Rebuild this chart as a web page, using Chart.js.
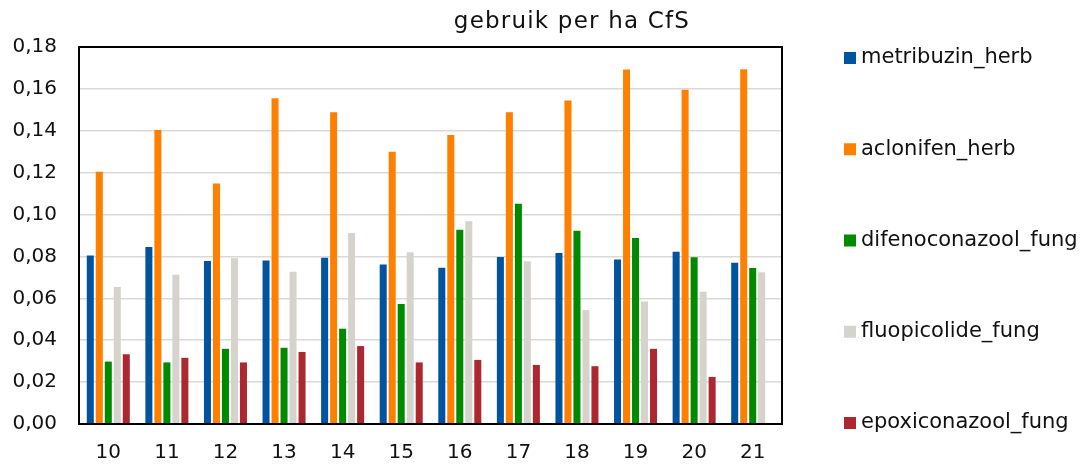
<!DOCTYPE html>
<html lang="nl">

<head>
    <meta charset="UTF-8">
    <title>gebruik per ha CfS</title>
    <script src="https://cdn.jsdelivr.net/npm/chart.js"></script>
    <style>
        html, body { margin: 0; padding: 0; background: #fff; }
        #wrap { width: 1084px; height: 468px; position: relative; }
    </style>
</head>

<body>
    <div id="wrap">
        <canvas id="chart" width="1084" height="468"></canvas>
    </div>

    <script type="text/javascript">
        // x-as categorieen
        var labels = ['10', '11', '12', '13', '14', '15', '16', '17', '18', '19', '20', '21'];

        var metribuzin = [0.0804, 0.0845, 0.0778, 0.0781, 0.0794, 0.0761, 0.0746, 0.0797, 0.0817, 0.0785, 0.0823, 0.0770];
        var aclonifen = [0.1204, 0.1404, 0.1148, 0.1555, 0.1488, 0.1300, 0.1380, 0.1488, 0.1545, 0.1692, 0.1596, 0.1694];
        var difenoconazool = [0.0298, 0.0294, 0.0359, 0.0364, 0.0455, 0.0573, 0.0928, 0.1051, 0.0923, 0.0888, 0.0796, 0.0745];
        var fluopicolide = [0.0654, 0.0713, 0.0791, 0.0727, 0.0912, 0.0820, 0.0968, 0.0777, 0.0544, 0.0585, 0.0632, 0.0724];
        var epoxiconazool = [0.0333, 0.0316, 0.0294, 0.0344, 0.0372, 0.0294, 0.0306, 0.0282, 0.0276, 0.0359, 0.0225, null];

        var seriesNames = ['metribuzin_herb', 'aclonifen_herb', 'difenoconazool_fung', 'fluopicolide_fung', 'epoxiconazool_fung'];
        var seriesColors = ['#00539f', '#ff7f00', '#008a00', '#d5d3cb', '#ad2731'];

        // y-as: 0 t/m 0,18
        var yMax = 0.18;
        var yStep = 0.02;

        var titleText = 'gebruik per ha CfS';
        var fontFamily = "'DejaVu Sans', Verdana, sans-serif";

        var seriesValues = [metribuzin, aclonifen, difenoconazool, fluopicolide, epoxiconazool];
        var datasets = [];
        for (var i = 0; i < seriesNames.length; i++) {
            datasets.push({
                label: seriesNames[i],
                data: seriesValues[i],
                backgroundColor: seriesColors[i],
                borderWidth: 0,
                categoryPercentage: 0.768,
                barPercentage: 0.78
            });
        }

        // titel, kader en legenda zelf tekenen (legenda staat verspreid rechts)
        var extrasPlugin = {
            id: 'extras',
            afterDatasetsDraw: function (chart) {
                var ctx = chart.ctx;
                var a = chart.chartArea;
                ctx.save();
                ctx.strokeStyle = '#000';
                ctx.lineWidth = 2;
                ctx.strokeRect(a.left, a.top, a.right - a.left, a.bottom - a.top);
                ctx.restore();
            },
            afterDraw: function (chart) {
                var ctx = chart.ctx;
                var a = chart.chartArea;
                ctx.save();
                ctx.fillStyle = '#111';
                ctx.font = '23px ' + fontFamily;
                ctx.letterSpacing = '1.2px';
                ctx.textAlign = 'center';
                ctx.textBaseline = 'alphabetic';
                ctx.fillText(titleText, 572, 28);
                ctx.letterSpacing = '0px';

                var ds = chart.data.datasets;
                var first = a.top + 11;
                var gap = (a.bottom - 1 - first) / (ds.length - 1);
                ctx.font = '21px ' + fontFamily;
                ctx.textAlign = 'left';
                ctx.textBaseline = 'middle';
                for (var k = 0; k < ds.length; k++) {
                    var y = first + k * gap;
                    ctx.fillStyle = ds[k].backgroundColor;
                    ctx.fillRect(a.right + 62, y - 6, 12, 12);
                    ctx.fillStyle = '#111';
                    ctx.fillText(ds[k].label, a.right + 79, y);
                }
                ctx.restore();
            }
        };

        new Chart(document.getElementById('chart'), {
            type: 'bar',
            data: {
                labels: labels,
                datasets: datasets
            },
            options: {
                responsive: false,
                animation: false,
                layout: {
                    padding: { left: 0, top: 47, right: 302, bottom: 0 }
                },
                plugins: {
                    legend: { display: false },
                    title: { display: false },
                    tooltip: { enabled: false }
                },
                scales: {
                    x: {
                        grid: { display: false, drawTicks: false },
                        border: { display: false },
                        ticks: {
                            color: '#111',
                            padding: 17,
                            font: { family: fontFamily, size: 20 }
                        },
                        afterFit: function (scale) { scale.height = 44; }
                    },
                    y: {
                        min: 0,
                        max: yMax,
                        grid: { color: '#d9d9d9', lineWidth: 1.5, drawTicks: false },
                        border: { display: false },
                        ticks: {
                            stepSize: yStep,
                            color: '#111',
                            padding: 22,
                            font: { family: fontFamily, size: 20 },
                            callback: function (v) { return v.toFixed(2).replace('.', ','); }
                        },
                        afterFit: function (scale) { scale.width = 79; }
                    }
                }
            },
            plugins: [extrasPlugin]
        });
    </script>
</body>

</html>
